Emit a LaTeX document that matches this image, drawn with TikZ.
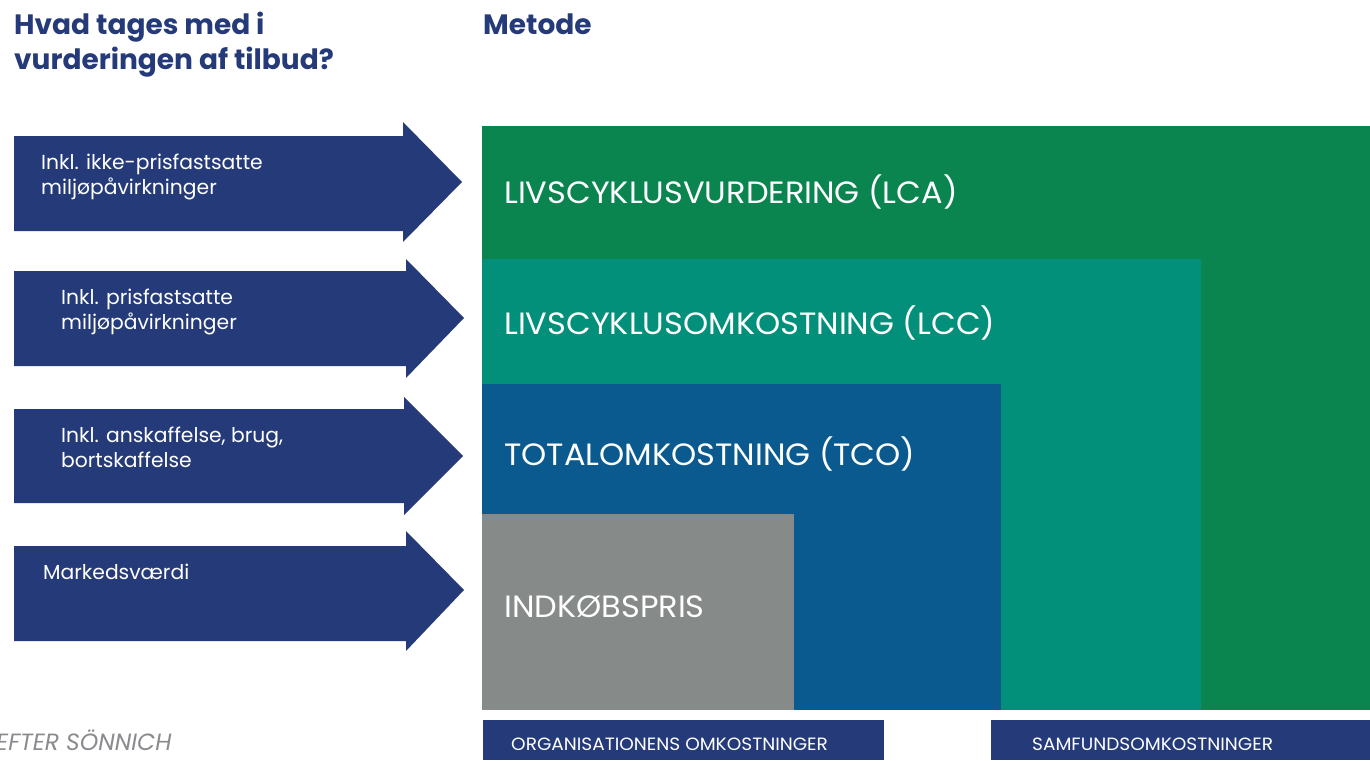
\documentclass[tikz,border=0pt]{standalone}
\usepackage{fontspec}
\setmainfont{Poppins}
\newfontfamily\titlefont{Poppins Bold}
\newfontfamily\widefont[FakeStretch=1.04]{Poppins}
\definecolor{navy}{RGB}{37,58,120}
\definecolor{lcagreen}{RGB}{11,133,80}
\definecolor{lccteal}{RGB}{3,144,123}
\definecolor{tcoblue}{RGB}{11,90,143}
\definecolor{prisgray}{RGB}{134,138,137}
\definecolor{srcgray}{RGB}{138,138,143}
\begin{document}
\begin{tikzpicture}[x=1pt,y=-1pt,
  arrowtxt/.style={text=white,font=\fontsize{20.3}{25}\selectfont,inner sep=0pt,anchor=base west},
  bigtxt/.style={text=white,font=\widefont\fontsize{30.8}{36}\selectfont,inner sep=0pt,anchor=base west},
  smalltxt/.style={text=white,font=\widefont\fontsize{17.8}{20}\selectfont,inner sep=0pt,anchor=base west},
  titletxt/.style={text=navy,font=\titlefont\fontsize{28}{35}\selectfont,inner sep=0pt,anchor=base west}]
\useasboundingbox (0,0) rectangle (1370,760);
\clip (0,0) rectangle (1370,760);
% titles
\node[titletxt] (t1) at (14,35) {Hvad tages med i};
\node[titletxt] (t1b) at (14,70) {vurderingen af tilbud?};
\node[titletxt] (t2) at (483,35) {Metode};
% arrows
\fill[navy] (14,136) -- (403,136) -- (403,122) -- (462,182) -- (403,242) -- (403,231) -- (14,231) -- cycle;
\fill[navy] (14,271) -- (406,271) -- (406,259) -- (464,318) -- (406,378) -- (406,366) -- (14,366) -- cycle;
\fill[navy] (14,409) -- (404,409) -- (404,397) -- (463,456) -- (404,515) -- (404,503) -- (14,503) -- cycle;
\fill[navy] (14,546) -- (406,546) -- (406,531) -- (464,590) -- (406,651) -- (406,641) -- (14,641) -- cycle;
\node[arrowtxt] (a1) at (41,169) {Inkl. ikke-prisfastsatte};
\node[arrowtxt] (a1b) at (41,194) {miljøpåvirkninger};
\node[arrowtxt] (a2) at (61,304) {Inkl. prisfastsatte};
\node[arrowtxt] (a2b) at (61,329) {miljøpåvirkninger};
\node[arrowtxt] (a3) at (61,442) {Inkl. anskaffelse, brug,};
\node[arrowtxt] (a3b) at (61,467) {bortskaffelse};
\node[arrowtxt] (a4) at (43,579) {Markedsværdi};
% nested method blocks
\fill[lcagreen] (482,126) rectangle (1370,710);
\fill[lccteal] (482,259) rectangle (1201,710);
\fill[tcoblue] (482,384) rectangle (1001,710);
\fill[prisgray] (482,514) rectangle (794,710);
\node[bigtxt] (lca) at (504,203) {LIVSCYKLUSVURDERING (LCA)};
\node[bigtxt] (lcc) at (504,334) {LIVSCYKLUSOMKOSTNING (LCC)};
\node[bigtxt] (tco) at (504,465) {TOTALOMKOSTNING (TCO)};
\node[bigtxt] (pris) at (504,617) {INDKØBSPRIS};
% bottom category bars
\fill[navy] (483,720) rectangle (884,760);
\fill[navy] (991,720) rectangle (1370,760);
\node[smalltxt] (org) at (511,750) {ORGANISATIONENS OMKOSTNINGER};
\node[smalltxt] (sam) at (1032,750) {SAMFUNDSOMKOSTNINGER};
% source
\node[text=srcgray,font=\itshape\fontsize{23.5}{26}\selectfont,inner sep=0pt,anchor=base west] (src) at (-4,750.5) {EFTER SÖNNICH};
\end{tikzpicture}
\end{document}
